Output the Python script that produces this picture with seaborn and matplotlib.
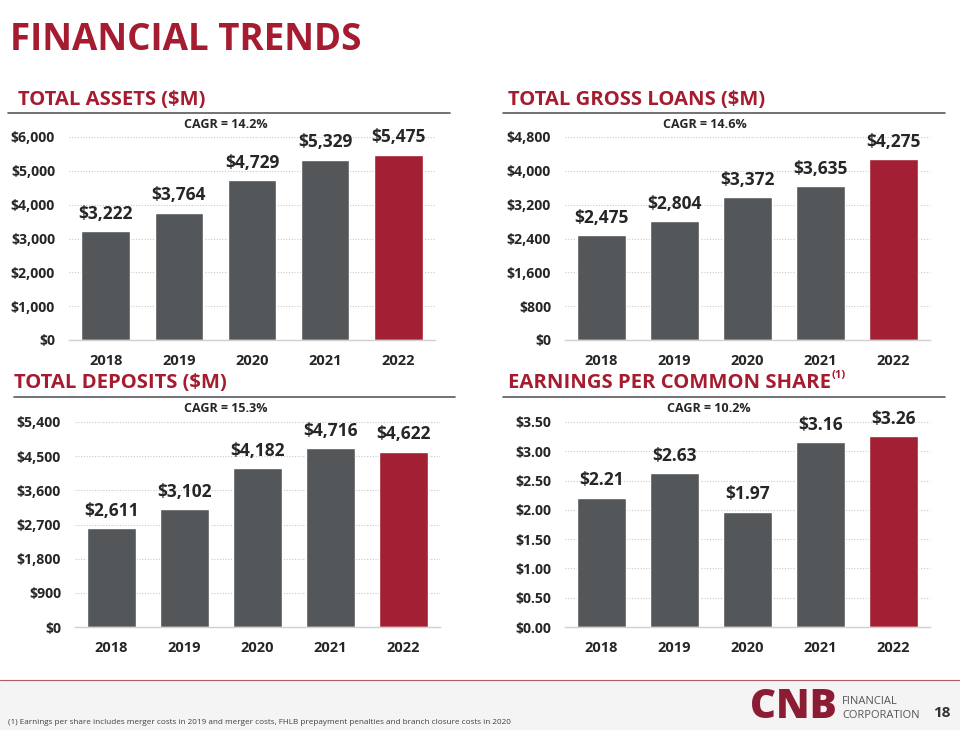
import seaborn as sns
import matplotlib.pyplot as plt
import pandas as pd

years = ['2018', '2019', '2020', '2021', '2022']
assets = [3222, 3764, 4729, 5329, 5475]
loans = [2475, 2804, 3372, 3635, 4275]
deposits = [2611, 3102, 4182, 4716, 4622]
eps = [2.21, 2.63, 1.97, 3.16, 3.26]

GRAY = '#54575a'
RED = '#a31f34'
TITLE_RED = '#a51c30'

sns.set_style('white')
plt.rcParams['font.family'] = ['Open Sans', 'DejaVu Sans']

W, H = 960, 730
fig = plt.figure(figsize=(W / 100, H / 100), dpi=100)


def px_axes(x0, y0, x1, y1):
    # pixel box (top-left origin) -> figure axes
    return fig.add_axes([x0 / W, 1 - y1 / H, (x1 - x0) / W, (y1 - y0) / H])


def panel(box, header, header_line, cagr, values, ymax, step, fmt, sup=None):
    x0, y0, x1, y1 = box
    ax = px_axes(x0, y0, x1, y1)
    df = pd.DataFrame({'year': years, 'value': values})
    sns.barplot(data=df, x='year', y='value', hue='year',
                palette=[GRAY] * 4 + [RED], legend=False, width=0.66,
                saturation=1, ax=ax)
    ax.set_xlim(-0.5, 4.5)
    ax.set_ylim(0, ymax)
    ticks = [i * step for i in range(int(round(ymax / step)) + 1)]
    ax.set_yticks(ticks)
    ax.set_yticklabels([fmt(t) for t in ticks], fontsize=10.2, fontweight='bold')
    ax.set_xticks(range(5))
    ax.set_xticklabels(years, fontsize=10.5, fontweight='bold')
    ax.tick_params(axis='y', length=0, pad=10)
    ax.tick_params(axis='x', length=0, pad=10)
    ax.set_xlabel('')
    ax.set_ylabel('')
    for t in ticks[1:]:
        ax.axhline(t, color='#c8c8c8', linestyle=(0, (1, 1.5)), linewidth=0.8, zorder=0)
    for s in ['top', 'right', 'left']:
        ax.spines[s].set_visible(False)
    ax.spines['bottom'].set_color('#d0d0d0')
    ax.spines['bottom'].set_linewidth(1)
    for i, v in enumerate(values):
        ax.annotate(fmt(v), (i, v), xytext=(0, 6), textcoords='offset points',
                    ha='center', va='bottom', fontsize=12.5, fontweight='bold')

    # section header and rule
    hx, hy, lx0, lx1, ly = header_line
    fig.text(hx / W, 1 - hy / H, header, color=TITLE_RED, fontsize=14.6,
             fontweight='bold', ha='left', va='center')
    if sup:
        fig.text(sup[0] / W, 1 - sup[1] / H, '(1)', color=TITLE_RED, fontsize=8,
                 fontweight='bold', ha='left', va='center')
    fig.add_artist(plt.Line2D([lx0 / W, lx1 / W], [1 - ly / H, 1 - ly / H],
                              color='#5a5a5a', linewidth=1.2))
    fig.text(cagr[0] / W, 1 - cagr[1] / H, cagr[2], fontsize=9,
             fontweight='bold', ha='center', va='center')
    return ax


money0 = lambda v: f'${v:,.0f}'
money2 = lambda v: f'${v:,.2f}'

panel((69, 137, 435, 340), 'TOTAL ASSETS ($M)', (18, 100, 8, 450, 113),
      (226, 124, 'CAGR = 14.2%'), assets, 6000, 1000, money0)
panel((565, 137, 930, 340), 'TOTAL GROSS LOANS ($M)', (508, 100, 503, 945, 113),
      (705, 124, 'CAGR = 14.6%'), loans, 4800, 800, money0)
panel((75, 422, 440, 627), 'TOTAL DEPOSITS ($M)', (14, 383, 14, 455, 397),
      (226, 409, 'CAGR = 15.3%'), deposits, 5400, 900, money0)
panel((565, 422, 930, 627), 'EARNINGS PER COMMON SHARE', (508, 383, 503, 945, 397),
      (709, 409, 'CAGR = 10.2%'), eps, 3.5, 0.5, money2, sup=(832, 375))

# page title
fig.text(10 / W, 1 - 40 / H, 'FINANCIAL TRENDS', color=TITLE_RED, fontsize=26.5,
         fontweight='bold', ha='left', va='center')

# footer band
fig.add_artist(plt.Rectangle((0, 0), 1, 50 / H, transform=fig.transFigure,
                             color='#f4f4f4', zorder=-5))
fig.add_artist(plt.Line2D([0, 1], [50 / H, 50 / H], color='#b05a68', linewidth=0.8))
fig.text(8 / W, 1 - 722 / H,
         '(1) Earnings per share includes merger costs in 2019 and merger costs, '
         'FHLB prepayment penalties and branch closure costs in 2020',
         fontsize=5.9, color='#404040', ha='left', va='center')
fig.text(793 / W, 1 - 708 / H, 'CNB', color='#8c1c33', fontsize=29,
         fontweight='heavy', ha='center', va='center')
fig.text(842 / W, 1 - 701 / H, 'FINANCIAL', color='#555555', fontsize=8,
         ha='left', va='center')
fig.text(842 / W, 1 - 716 / H, 'CORPORATION', color='#555555', fontsize=8,
         ha='left', va='center')
fig.text(942 / W, 1 - 713 / H, '18', color='#333333', fontsize=11,
         fontweight='bold', ha='center', va='center')

fig.savefig('out.png', dpi=100)
